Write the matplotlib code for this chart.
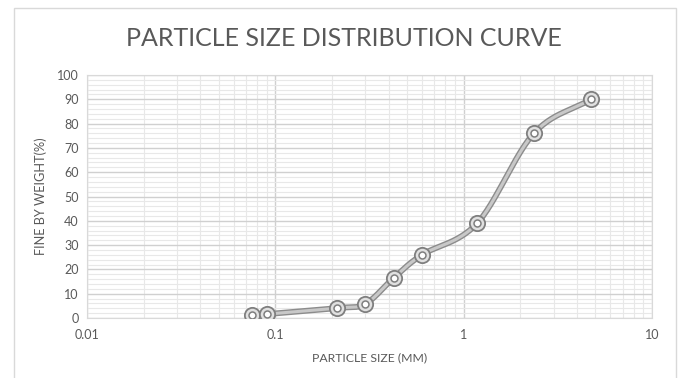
import numpy as np
import matplotlib.pyplot as plt
from matplotlib.ticker import FixedLocator, NullFormatter

plt.rcParams['font.family'] = ['Lato', 'DejaVu Sans']

# sieve data
particle_size = [0.075, 0.09, 0.212, 0.30, 0.425, 0.60, 1.18, 2.36, 4.75]
percent_finer = [1.2, 1.6, 4.1, 5.8, 16.5, 26.0, 39.0, 76.0, 90.0]
x_ticks = [0.01, 0.1, 1, 10]
x_tick_labels = ["0.01", "0.1", "1", "10"]


def smooth(x, y, n=30):
    # Catmull-Rom through the points in (log x, y), like a smoothed line in a spreadsheet
    lx = np.log10(x)
    y = np.asarray(y, float)
    px = np.concatenate([[2 * lx[0] - lx[1]], lx, [2 * lx[-1] - lx[-2]]])
    py = np.concatenate([[2 * y[0] - y[1]], y, [2 * y[-1] - y[-2]]])
    outx, outy = [], []
    t = np.linspace(0, 1, n)
    for i in range(1, len(px) - 2):
        for arr, out in ((px, outx), (py, outy)):
            p0, p1, p2, p3 = arr[i - 1:i + 3]
            out.extend(0.5 * ((2 * p1) + (-p0 + p2) * t
                              + (2 * p0 - 5 * p1 + 4 * p2 - p3) * t ** 2
                              + (-p0 + 3 * p1 - 3 * p2 + p3) * t ** 3))
    return 10 ** np.array(outx), np.array(outy)


fig = plt.figure(figsize=(6.81, 3.78), dpi=100)
ax = fig.add_axes([0.1278, 0.1587, 0.8296, 0.6429])

# outer chart border
fig.patches.append(plt.Rectangle((14 / 681, -0.1), 662 / 681, 1.1 - 8 / 378,
                                 transform=fig.transFigure, fill=False,
                                 edgecolor="#d9d9d9", linewidth=1))

sx, sy = smooth(particle_size, percent_finer)
ax.plot(sx, sy, color="#8c8c8c", linewidth=4.2, solid_capstyle="round", zorder=3)
ax.plot(sx, sy, color="#c8c8c8", linewidth=2.2, solid_capstyle="round", zorder=4)
ax.plot(particle_size, percent_finer, linestyle="none", marker="o", markersize=11,
        markerfacecolor="#e0e0e0", markeredgecolor="#7f7f7f", markeredgewidth=1.3, zorder=5)
ax.plot(particle_size, percent_finer, linestyle="none", marker="o", markersize=5,
        markerfacecolor="white", markeredgecolor="#7f7f7f", markeredgewidth=1.1, zorder=6)

ax.set_xscale("log")
ax.set_xlim(0.01, 10)
ax.set_ylim(0, 100)
ax.set_xticks(x_ticks)
ax.set_xticklabels(x_tick_labels)
ax.xaxis.set_minor_locator(FixedLocator([m * 10.0 ** e for e in range(-2, 1) for m in range(2, 10)]))
ax.xaxis.set_minor_formatter(NullFormatter())
ax.set_yticks(np.arange(0, 101, 10))
ax.yaxis.set_minor_locator(FixedLocator(np.arange(0, 101, 2)))

ax.grid(which="major", color="#d0d0d0", linewidth=1.0)
ax.grid(which="minor", color="#e8e8e8", linewidth=0.8)
ax.set_axisbelow(True)
ax.tick_params(which="both", length=0, colors="#595959", labelsize=9)
ax.tick_params(axis="x", pad=8)
ax.tick_params(axis="y", pad=6)
for s in ax.spines.values():
    s.set_color("#d9d9d9")

ax.set_xlabel("PARTICLE SIZE (MM)", fontsize=8.8, color="#595959", labelpad=8)
ax.set_ylabel("FINE BY WEIGHT(%)", fontsize=9.2, color="#595959", labelpad=7)
fig.text(0.5 + 14 / 681 / 2 - 0.005, 0.897, "PARTICLE SIZE DISTRIBUTION CURVE",
         ha="center", va="center", fontsize=18, color="#595959")

fig.savefig("out.png", dpi=100)
